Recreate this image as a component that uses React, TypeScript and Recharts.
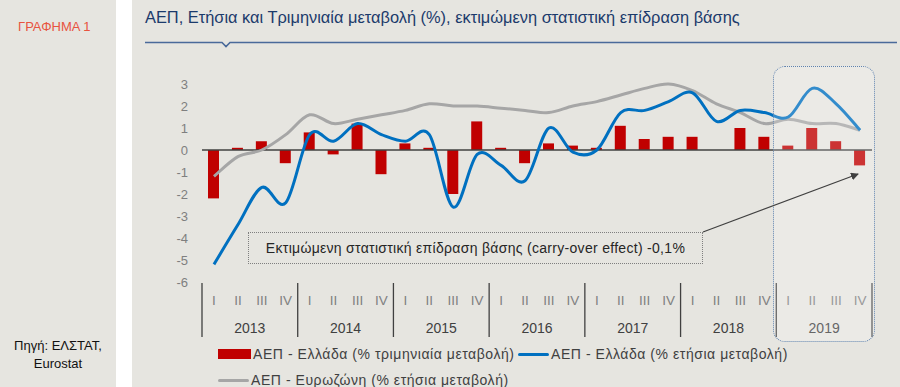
import React from 'react';
import { ComposedChart, Bar, Line, XAxis, YAxis, ReferenceLine, Legend } from 'recharts';

const years = ['2013', '2014', '2015', '2016', '2017', '2018', '2019'];
const quarterLabels = ['I', 'II', 'III', 'IV'];
const greeceQoQ = [
  -2.2, 0.1, 0.4, -0.6,
  0.8, -0.2, 1.2, -1.1,
  0.3, 0.1, -2.0, 1.3,
  0.1, -0.6, 0.3, 0.2,
  0.1, 1.1, 0.5, 0.6,
  0.6, 0.0, 1.0, 0.6,
  0.2, 1.0, 0.4, -0.7,
];
const greeceYoY = [
  -5.2, -3.4, -1.7, -2.4,
  0.7, 0.4, 1.2, 0.7,
  0.4, 0.7, -2.6, -0.2,
  -0.7, -1.4, 1.0, -0.1,
  0.0, 1.7, 1.8, 2.2,
  2.6, 1.3, 1.8, 1.7,
  1.5, 2.8, 2.1, 0.9,
];
const eurozoneYoY = [
  -1.2, -0.3, 0.0, 0.7,
  1.6, 1.2, 1.4, 1.6,
  1.8, 2.1, 2.0, 2.0,
  1.9, 1.8, 1.7, 2.0,
  2.2, 2.5, 2.8, 3.0,
  2.7, 2.1, 1.7, 1.2,
  1.4, 1.2, 1.2, 0.9,
];
const yTicks = [3, 2, 1, 0, -1, -2, -3, -4, -5, -6];
const seriesNames = [
  'ΑΕΠ - Ελλάδα (% τριμηνιαία μεταβολή)',
  'ΑΕΠ - Ελλάδα (% ετήσια μεταβολή)',
  'ΑΕΠ - Ευρωζώνη (% ετήσια μεταβολή)',
];
const titleText = 'ΑΕΠ, Ετήσια και Τριμηνιαία μεταβολή (%), εκτιμώμενη στατιστική επίδραση βάσης';
const noteText = 'Εκτιμώμενη στατιστική επίδραση βάσης (carry-over effect) -0,1%';

const data = greeceQoQ.map((v, i) => ({
  key: `${years[Math.floor(i / 4)]}-${quarterLabels[i % 4]}`,
  qoq: v,
  gr: greeceYoY[i],
  ez: eurozoneYoY[i],
}));

const FONT = '"Liberation Sans", Arial, sans-serif';
const BG = '#E6E5E0';
const RED = '#C00000';
const BLUE = '#0070C0';
const GRAY = '#A6A6A6';

const CHART_W = 900;
const CHART_H = 387;
const MARGIN = { top: 84, right: 28, left: 162, bottom: 45 };
const Y_W = 40;
const PLOT_LEFT = MARGIN.left + Y_W;
const PLOT_W = CHART_W - PLOT_LEFT - MARGIN.right;
const HALF_BAND = PLOT_W / data.length / 2;

// Excel-like smoothed line (Catmull-Rom through points)
const smoothCurve = (context: any) => {
  let pts: number[][] = [];
  return {
    areaStart() {},
    areaEnd() {},
    lineStart() {
      pts = [];
    },
    lineEnd() {
      const n = pts.length;
      if (!n) return;
      context.moveTo(pts[0][0], pts[0][1]);
      for (let i = 0; i < n - 1; i++) {
        const p0 = pts[i - 1] || pts[i];
        const p1 = pts[i];
        const p2 = pts[i + 1];
        const p3 = pts[i + 2] || p2;
        context.bezierCurveTo(
          p1[0] + (p2[0] - p0[0]) / 6,
          p1[1] + (p2[1] - p0[1]) / 6,
          p2[0] - (p3[0] - p1[0]) / 6,
          p2[1] - (p3[1] - p1[1]) / 6,
          p2[0],
          p2[1]
        );
      }
    },
    point(x: number, y: number) {
      pts.push([+x, +y]);
    },
  };
};

const QuarterTick = (props: any) => {
  const { x, y, payload } = props;
  const i = props.index ?? payload.index;
  const els: React.ReactNode[] = [];
  els.push(
    <text key="q" x={x} y={y + 23} textAnchor="middle" fontSize={13.5} fill="#808080" fontFamily={FONT}>
      {quarterLabels[i % 4]}
    </text>
  );
  if (i % 4 === 0) {
    els.push(<line key="s" x1={x - HALF_BAND} x2={x - HALF_BAND} y1={y + 1} y2={y + 55} stroke="#404040" strokeWidth={1.3} />);
  }
  if (i === data.length - 1) {
    els.push(<line key="e" x1={x + HALF_BAND} x2={x + HALF_BAND} y1={y + 1} y2={y + 55} stroke="#404040" strokeWidth={1.3} />);
  }
  if (i % 4 === 1) {
    els.push(
      <text key="y" x={x + HALF_BAND} y={y + 51} textAnchor="middle" fontSize={14} fill="#404040" fontFamily={FONT}>
        {years[Math.floor(i / 4)]}
      </text>
    );
  }
  return <g>{els}</g>;
};

const LegendContent = () => {
  const item = (swatch: React.ReactNode, label: string, width?: number) => (
    <div style={{ display: 'flex', alignItems: 'center', height: 26, width, flex: 'none' }}>
      {swatch}
      <span style={{ marginLeft: 2 }}>{label}</span>
    </div>
  );
  const rect = <span style={{ display: 'inline-block', width: 33, height: 10, background: RED }} />;
  const lineSw = (c: string) => <span style={{ display: 'inline-block', width: 31, height: 3, background: c, borderRadius: 2 }} />;
  return (
    <div style={{ fontFamily: FONT, fontSize: 14, color: '#404040', letterSpacing: 0.55, whiteSpace: 'nowrap' }}>
      <div style={{ display: 'flex', height: 26 }}>
        {item(rect, seriesNames[0], 300)}
        {item(lineSw(BLUE), seriesNames[1])}
      </div>
      <div style={{ display: 'flex', height: 26 }}>{item(lineSw(GRAY), seriesNames[2])}</div>
    </div>
  );
};

export default function App() {
  return (
    <div style={{ position: 'relative', width: CHART_W, height: CHART_H, background: '#FFFFFF', overflow: 'hidden', fontFamily: FONT }}>
      <style>{'body{margin:0;}'}</style>
      <div style={{ position: 'absolute', left: 0, top: 0, width: 116, height: CHART_H, background: BG }} />
      <div style={{ position: 'absolute', left: 132, top: 0, width: CHART_W - 132, height: CHART_H, background: BG }} />
      <div style={{ position: 'absolute', left: 18, top: 19, fontSize: 13, color: '#E8533F', whiteSpace: 'nowrap' }}>ΓΡΑΦΗΜΑ 1</div>
      <div style={{ position: 'absolute', left: 0, top: 337, width: 116, textAlign: 'center', fontSize: 13, color: '#111', lineHeight: '18px' }}>
        Πηγή: ΕΛΣΤΑΤ,
        <br />
        Eurostat
      </div>
      <div style={{ position: 'absolute', left: 145, top: 8, fontSize: 16.4, color: '#1B3A6B', whiteSpace: 'nowrap' }}>{titleText}</div>
      <svg style={{ position: 'absolute', left: 0, top: 0 }} width={CHART_W} height={60}>
        <path d="M145 42.5 H222 L226 46.5 L230 42.5 H897" fill="none" stroke="#4A6A9A" strokeWidth={1.6} />
      </svg>
      <div style={{ position: 'absolute', left: 0, top: 0 }}>
        <ComposedChart width={CHART_W} height={CHART_H} data={data} margin={MARGIN}>
          <XAxis
            dataKey="key"
            type="category"
            interval={0}
            tickLine={false}
            axisLine={false}
            tickSize={0}
            tickMargin={0}
            height={60}
            tick={<QuarterTick />}
          />
          <YAxis
            width={Y_W}
            domain={[-6, 3]}
            ticks={yTicks}
            interval={0}
            axisLine={false}
            tickLine={false}
            tickSize={0}
            tickMargin={14}
            tick={{ fill: '#7F7F7F', fontSize: 13, fontFamily: FONT }}
          />
          <Bar dataKey="qoq" name={seriesNames[0]} fill={RED} barSize={11} isAnimationActive={false} />
          <ReferenceLine y={0} stroke="#404040" strokeWidth={1.6} />
          <Line dataKey="ez" name={seriesNames[2]} type={smoothCurve as any} stroke={GRAY} strokeWidth={3} dot={false} activeDot={false} isAnimationActive={false} />
          <Line dataKey="gr" name={seriesNames[1]} type={smoothCurve as any} stroke={BLUE} strokeWidth={3} dot={false} activeDot={false} isAnimationActive={false} />
          <Legend
            layout="horizontal"
            verticalAlign="middle"
            align="center"
            content={<LegendContent />}
            wrapperStyle={{ left: 218, top: 341, width: 640, height: 52 }}
          />
        </ComposedChart>
      </div>
      {/* 2019 highlight */}
      <div
        style={{
          position: 'absolute',
          left: 773,
          top: 66,
          width: 102,
          height: 276,
          border: '1px dotted #5F82AE',
          borderRadius: 12,
          background: 'rgba(255,255,255,0.2)',
          boxSizing: 'border-box',
        }}
      />
      {/* annotation */}
      <div
        style={{
          position: 'absolute',
          left: 248,
          top: 232,
          width: 455,
          height: 32,
          border: '1px dotted #7F7F7F',
          boxSizing: 'border-box',
          fontSize: 14,
          color: '#262626',
          textAlign: 'center',
          lineHeight: '30px',
          letterSpacing: 0.3,
          whiteSpace: 'nowrap',
        }}
      >
        {noteText}
      </div>
      <svg style={{ position: 'absolute', left: 0, top: 0, pointerEvents: 'none' }} width={CHART_W} height={CHART_H}>
        <defs>
          <marker id="arr" markerWidth="8" markerHeight="8" refX="7" refY="4" orient="auto" markerUnits="userSpaceOnUse">
            <path d="M0,0 L8,4 L0,8 z" fill="#404040" />
          </marker>
        </defs>
        <line x1={703} y1={232} x2={858} y2={174} stroke="#404040" strokeWidth={1.2} markerEnd="url(#arr)" />
      </svg>
    </div>
  );
}
